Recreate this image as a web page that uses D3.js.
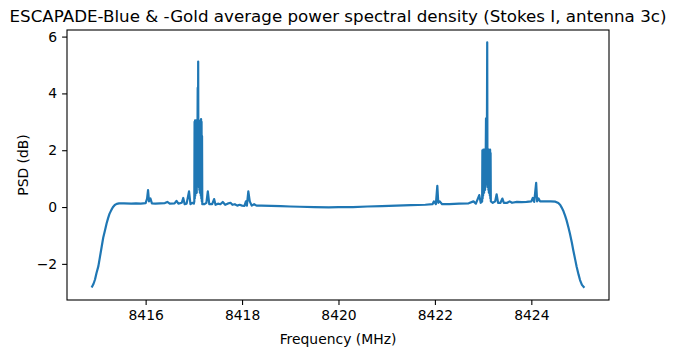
<!DOCTYPE html>
<html>
<head>
<meta charset="utf-8">
<script src="https://cdn.jsdelivr.net/npm/d3@7"></script>
<style>
  body { margin: 0; background: #fff; }
  text { font-family: "DejaVu Sans", sans-serif; fill: #000; }
</style>
</head>
<body>
<svg id="chart" width="676" height="353"></svg>
<script>
const WIDTH = 676;
const HEIGHT = 353;
const MARGIN = { top: 30, right: 67, bottom: 53, left: 67 };
const LINE_COLOR = '#1f77b4';

// [frequency MHz, PSD dB], segment by segment
const leftEdge = [
  [8414.88, -2.83], [8414.92, -2.7], [8414.95, -2.55], [8414.98, -2.33],
  [8415.02, -2.08], [8415.05, -1.78], [8415.09, -1.38], [8415.12, -1.08],
  [8415.16, -0.8], [8415.19, -0.58], [8415.22, -0.4], [8415.25, -0.24],
  [8415.29, -0.1], [8415.32, -0.01], [8415.36, 0.07], [8415.40, 0.11],
  [8415.45, 0.13], [8415.55, 0.13],
];
const leftBand = [
  [8415.7, 0.12], [8415.8, 0.13], [8415.9, 0.12], [8416.0, 0.14],
  [8416.03, 0.3], [8416.05, 0.6], [8416.07, 0.2], [8416.1, 0.3],
  [8416.13, 0.13], [8416.2, 0.12], [8416.3, 0.13], [8416.4, 0.14],
  [8416.45, 0.18], [8416.5, 0.12], [8416.6, 0.13], [8416.64, 0.22],
  [8416.68, 0.12], [8416.75, 0.15], [8416.78, 0.32], [8416.81, 0.1],
  [8416.85, 0.12], [8416.9, 0.55], [8416.93, 0.1], [8416.97, 0.15],
  [8417.0, 0.12],
];
const leftCluster = [
  [8417.01, 0.2], [8417.015, 3.0], [8417.02, 0.3], [8417.025, 3.05],
  [8417.03, 0.4], [8417.035, 3.0], [8417.04, 0.5], [8417.045, 3.05],
  [8417.05, 0.6], [8417.055, 2.95], [8417.06, 0.5], [8417.065, 3.0],
  [8417.07, 0.8], [8417.08, 4.2], [8417.085, 1.0], [8417.09, 5.12],
  [8417.095, 1.0], [8417.1, 3.05], [8417.105, 0.7], [8417.11, 2.7],
  [8417.115, 0.6], [8417.12, 2.65], [8417.125, 0.5], [8417.13, 2.7],
  [8417.135, 0.5], [8417.14, 3.05], [8417.145, 0.4], [8417.15, 3.1],
  [8417.155, 0.3], [8417.16, 3.0], [8417.165, 0.2], [8417.17, 2.5],
  [8417.175, 0.1],
];
const midBand = [
  [8417.22, 0.1], [8417.26, 0.15], [8417.29, 0.55], [8417.32, 0.1],
  [8417.38, 0.1], [8417.42, 0.28], [8417.45, 0.08], [8417.5, 0.12],
  [8417.55, 0.1], [8417.6, 0.18], [8417.65, 0.08], [8417.7, 0.12],
  [8417.76, 0.15], [8417.8, 0.08], [8417.85, 0.1], [8417.9, 0.05],
  [8417.95, 0.08], [8418.0, 0.05], [8418.05, 0.04], [8418.08, 0.2],
  [8418.1, 0.05], [8418.13, 0.55], [8418.16, 0.2], [8418.2, 0.05],
  [8418.25, 0.1], [8418.3, 0.05], [8418.4, 0.05], [8418.6, 0.04],
  [8418.8, 0.03], [8419.0, 0.02], [8419.2, 0.01], [8419.5, 0.0],
  [8419.8, -0.01], [8420.0, 0.0], [8420.3, 0.0], [8420.6, 0.02],
  [8420.9, 0.03], [8421.2, 0.05], [8421.5, 0.07], [8421.8, 0.08],
  [8421.95, 0.1], [8421.98, 0.2], [8422.02, 0.1], [8422.05, 0.75],
  [8422.07, 0.15], [8422.1, 0.2], [8422.15, 0.1], [8422.3, 0.1],
  [8422.5, 0.12], [8422.7, 0.13], [8422.8, 0.2], [8422.85, 0.12],
  [8422.92, 0.42], [8422.95, 0.15],
];
const rightCluster = [
  [8422.98, 0.2], [8422.985, 2.0], [8422.99, 0.3], [8422.995, 2.0],
  [8423.0, 0.4], [8423.005, 2.02], [8423.01, 0.5], [8423.015, 2.0],
  [8423.02, 0.5], [8423.025, 2.02], [8423.03, 0.6], [8423.035, 2.0],
  [8423.04, 0.6], [8423.045, 2.02], [8423.05, 0.7], [8423.055, 2.0],
  [8423.06, 3.12], [8423.065, 0.8], [8423.07, 2.0], [8423.075, 0.9],
  [8423.085, 5.8], [8423.09, 0.9], [8423.095, 2.02], [8423.1, 0.7],
  [8423.105, 2.0], [8423.11, 0.6], [8423.115, 2.02], [8423.12, 0.5],
  [8423.125, 2.0], [8423.13, 0.5], [8423.135, 2.0], [8423.14, 0.4],
  [8423.145, 2.02], [8423.15, 0.3], [8423.155, 1.9], [8423.16, 0.2],
];
const rightBand = [
  [8423.2, 0.15], [8423.25, 0.2], [8423.28, 0.45], [8423.31, 0.15],
  [8423.36, 0.15], [8423.4, 0.3], [8423.43, 0.15], [8423.5, 0.15],
  [8423.55, 0.2], [8423.6, 0.15], [8423.7, 0.18], [8423.8, 0.17],
  [8423.9, 0.18], [8424.0, 0.2], [8424.03, 0.32], [8424.06, 0.18],
  [8424.1, 0.85], [8424.12, 0.2], [8424.15, 0.3], [8424.18, 0.2],
  [8424.3, 0.2], [8424.4, 0.2], [8424.5, 0.19],
];
const rightEdge = [
  [8424.56, 0.14], [8424.6, 0.07], [8424.63, -0.02], [8424.66, -0.12],
  [8424.7, -0.3], [8424.73, -0.46], [8424.77, -0.72], [8424.8, -0.93],
  [8424.84, -1.25], [8424.87, -1.52], [8424.91, -1.85], [8424.94, -2.1],
  [8424.98, -2.38], [8425.01, -2.57], [8425.05, -2.74], [8425.1, -2.84],
];

const xTicks = [8416, 8418, 8420, 8422, 8424];
const yTicks = [-2, 0, 2, 4, 6];

const TITLE = 'ESCAPADE-Blue & -Gold average power spectral density (Stokes I, antenna 3c)';
const X_LABEL = 'Frequency (MHz)';
const Y_LABEL = 'PSD (dB)';

const spectrum = [
  ...leftEdge, ...leftBand, ...leftCluster, ...midBand,
  ...rightCluster, ...rightBand, ...rightEdge,
];

const svg = d3.select('#chart');
const innerW = WIDTH - MARGIN.left - MARGIN.right;
const innerH = HEIGHT - MARGIN.top - MARGIN.bottom;

// matplotlib-style 5% padding around the data range
const xExt = d3.extent(spectrum, (d) => d[0]);
const yExt = d3.extent(spectrum, (d) => d[1]);
const xPad = (xExt[1] - xExt[0]) * 0.05;
const yPad = (yExt[1] - yExt[0]) * 0.05;

const x = d3.scaleLinear().domain([xExt[0] - xPad, xExt[1] + xPad]).range([0, innerW]);
const y = d3.scaleLinear().domain([yExt[0] - yPad, yExt[1] + yPad]).range([innerH, 0]);

const g = svg.append('g').attr('transform', `translate(${MARGIN.left},${MARGIN.top})`);

g.append('path')
  .datum(spectrum)
  .attr('fill', 'none')
  .attr('stroke', LINE_COLOR)
  .attr('stroke-width', 2.2)
  .attr('stroke-linejoin', 'round')
  .attr('d', d3.line().x((d) => x(d[0])).y((d) => y(d[1])));

// axes
const xAxis = g.append('g')
  .attr('transform', `translate(0,${innerH})`)
  .call(d3.axisBottom(x).tickValues(xTicks).tickFormat(d3.format('d'))
    .tickSize(4.9).tickPadding(4.9).tickSizeOuter(0));
const yAxis = g.append('g')
  .call(d3.axisLeft(y).tickValues(yTicks).tickFormat((d) => (d < 0 ? `\u2212${-d}` : d))
    .tickSize(4.9).tickPadding(4.9).tickSizeOuter(0));

[xAxis, yAxis].forEach((a) => {
  a.select('.domain').remove();
  a.selectAll('line').attr('stroke', '#000').attr('stroke-width', 1.1);
  a.selectAll('text').style('font-size', '13.9px').attr('fill', '#000');
});

// frame
g.append('rect')
  .attr('width', innerW)
  .attr('height', innerH)
  .attr('fill', 'none')
  .attr('stroke', '#000')
  .attr('stroke-width', 1.1);

svg.append('text')
  .attr('x', MARGIN.left + innerW / 2)
  .attr('y', MARGIN.top - 8.3)
  .attr('text-anchor', 'middle')
  .style('font-size', '16.7px')
  .text(TITLE);

svg.append('text')
  .attr('x', MARGIN.left + innerW / 2)
  .attr('y', 344)
  .attr('text-anchor', 'middle')
  .style('font-size', '13.9px')
  .text(X_LABEL);

svg.append('text')
  .attr('transform', `translate(28,${MARGIN.top + innerH / 2}) rotate(-90)`)
  .attr('text-anchor', 'middle')
  .style('font-size', '13.9px')
  .text(Y_LABEL);
</script>
</body>
</html>
